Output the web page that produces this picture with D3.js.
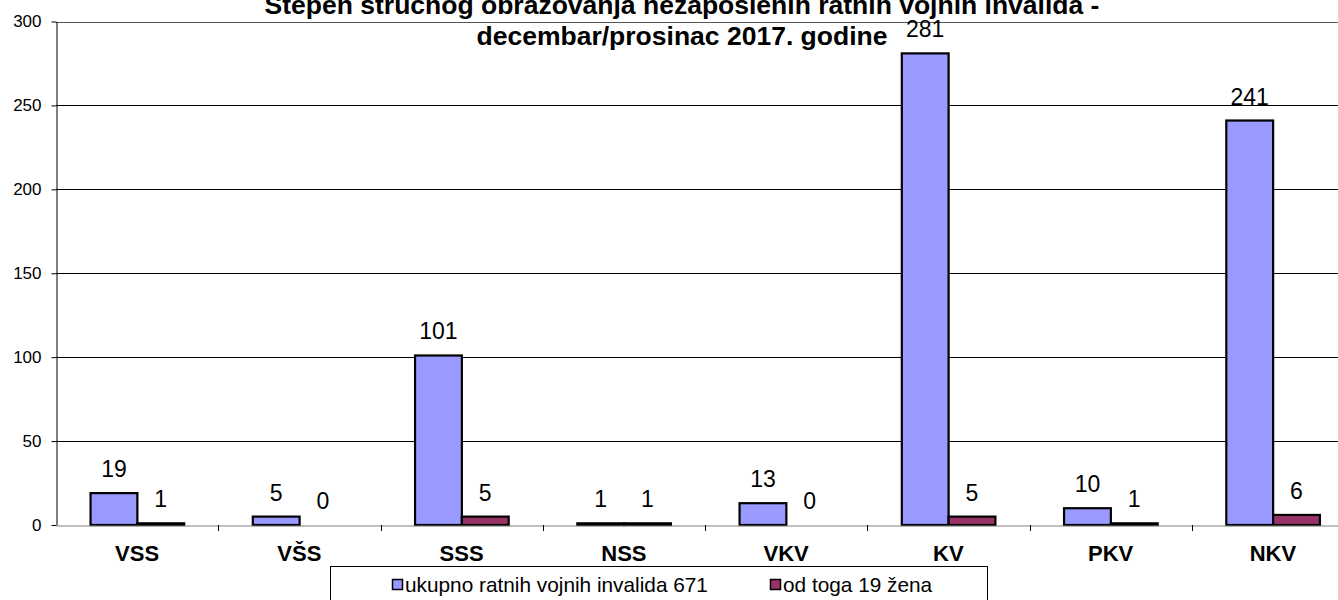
<!DOCTYPE html>
<html>
<head>
<meta charset="utf-8">
<script src="https://cdn.jsdelivr.net/npm/d3@7"></script>
<style>
  html, body { margin: 0; padding: 0; background: #fff; overflow: hidden; }
  svg { display: block; font-family: Arial, "Liberation Sans", sans-serif; }
</style>
</head>
<body>
<div id="chart"></div>
<script>
// data
const categories = ["VSS", "VŠS", "SSS", "NSS", "VKV", "KV", "PKV", "NKV"];
const ukupno = [19, 5, 101, 1, 13, 281, 10, 241];
const zene = [1, 0, 5, 1, 0, 5, 1, 6];
const seriesNames = ["ukupno ratnih vojnih invalida 671", "od toga 19 žena"];
const yTicks = [0, 50, 100, 150, 200, 250, 300];
const titleLines = [
  "Stepen stručnog obrazovanja nezaposlenih ratnih vojnih invalida -",
  "decembar/prosinac 2017. godine",
];

const width = 1338;
const height = 600;
const plot = { left: 56, right: 1354, top: 21.5, bottom: 525 };
const colors = ["#9999FF", "#993366"];

const svg = d3
  .select("#chart")
  .append("svg")
  .attr("width", width)
  .attr("height", height);

const rows = categories.map((c, i) => ({ cat: c, values: [ukupno[i], zene[i]] }));

const x0 = d3.scaleBand().domain(categories).range([plot.left, plot.right]).padding(0);
const bw = x0.bandwidth();
const x1 = d3.scaleBand().domain([0, 1]).range([bw * 0.213, bw * 0.79]).padding(0);
const y = d3.scaleLinear().domain([0, 300]).range([plot.bottom, plot.top]);

// gridlines
svg
  .append("g")
  .selectAll("line")
  .data(yTicks.filter((d) => d > 0))
  .join("line")
  .attr("x1", plot.left)
  .attr("x2", plot.right)
  .attr("y1", (d) => Math.round(y(d)) + 0.5)
  .attr("y2", (d) => Math.round(y(d)) + 0.5)
  .attr("stroke", (d) => (d === 300 ? "#555" : "#000"))
  .attr("stroke-width", 1);

// y axis
const yAxis = d3.axisLeft(y).tickValues(yTicks).tickSize(5).tickPadding(10).tickSizeOuter(0);
svg
  .append("g")
  .attr("transform", `translate(${plot.left + 0.5},0)`)
  .call(yAxis)
  .call((g) => g.select(".domain").attr("stroke", "#000"))
  .call((g) =>
    g
      .selectAll("text")
      .attr("font-size", "17px")
      .attr("font-family", "Arial, 'Liberation Sans', sans-serif")
      .attr("fill", "#000")
  );

// bars
const groups = svg
  .append("g")
  .selectAll("g")
  .data(rows)
  .join("g")
  .attr("transform", (d) => `translate(${x0(d.cat)},0)`);

groups
  .selectAll("rect")
  .data((d) => d.values.map((v, i) => ({ v, i })))
  .join("rect")
  .attr("x", (d) => x1(d.i))
  .attr("y", (d) => y(d.v))
  .attr("width", x1.bandwidth())
  .attr("height", (d) => y(0) - y(d.v))
  .attr("fill", (d) => colors[d.i])
  .attr("stroke", "#000")
  .attr("stroke-width", 2.2);

// value labels
groups
  .selectAll("text")
  .data((d) => d.values.map((v, i) => ({ v, i })))
  .join("text")
  .attr("x", (d) => x1(d.i) + x1.bandwidth() / 2)
  .attr("y", (d) => y(d.v) - 16)
  .attr("text-anchor", "middle")
  .attr("font-size", "23px")
  .attr("fill", "#000")
  .text((d) => d.v);

// x axis
const xAxis = d3.axisBottom(x0).tickSize(0).tickPadding(0).tickSizeOuter(0);
const xg = svg
  .append("g")
  .attr("transform", `translate(0,${plot.bottom + 0.5})`)
  .call(xAxis);
xg.select(".domain").attr("stroke", "#808080");
xg.selectAll("text")
  .attr("y", 35)
  .attr("dy", null)
  .attr("font-size", "22px")
  .attr("font-weight", "bold")
  .attr("font-family", "Arial, 'Liberation Sans', sans-serif")
  .attr("fill", "#000");

// category boundary ticks
svg
  .append("g")
  .selectAll("line")
  .data(categories.slice(1))
  .join("line")
  .attr("x1", (d) => Math.round(x0(d)) + 0.5)
  .attr("x2", (d) => Math.round(x0(d)) + 0.5)
  .attr("y1", plot.bottom)
  .attr("y2", plot.bottom + 6)
  .attr("stroke", "#000");

// title
svg
  .append("text")
  .attr("x", 682)
  .attr("text-anchor", "middle")
  .attr("font-size", "26.5px")
  .attr("font-weight", "bold")
  .attr("fill", "#000")
  .selectAll("tspan")
  .data(titleLines)
  .join("tspan")
  .attr("x", 682)
  .attr("y", (d, i) => 14 + i * 31)
  .text((d) => d);

// legend
const legend = svg.append("g");
legend
  .append("rect")
  .attr("x", 330.5)
  .attr("y", 566.5)
  .attr("width", 657)
  .attr("height", 50)
  .attr("fill", "#fff")
  .attr("stroke", "#000")
  .attr("stroke-width", 1);

const legendX = [392, 770];
const items = legend
  .selectAll("g")
  .data(seriesNames)
  .join("g")
  .attr("transform", (d, i) => `translate(${legendX[i]},579)`);

items
  .append("rect")
  .attr("x", 0.5)
  .attr("y", 0.5)
  .attr("width", 10)
  .attr("height", 10)
  .attr("fill", (d, i) => colors[i])
  .attr("stroke", "#000")
  .attr("stroke-width", 1.5);

items
  .append("text")
  .attr("x", 13)
  .attr("y", 13)
  .attr("font-size", "20.8px")
  .attr("fill", "#000")
  .text((d) => d);
</script>
</body>
</html>
